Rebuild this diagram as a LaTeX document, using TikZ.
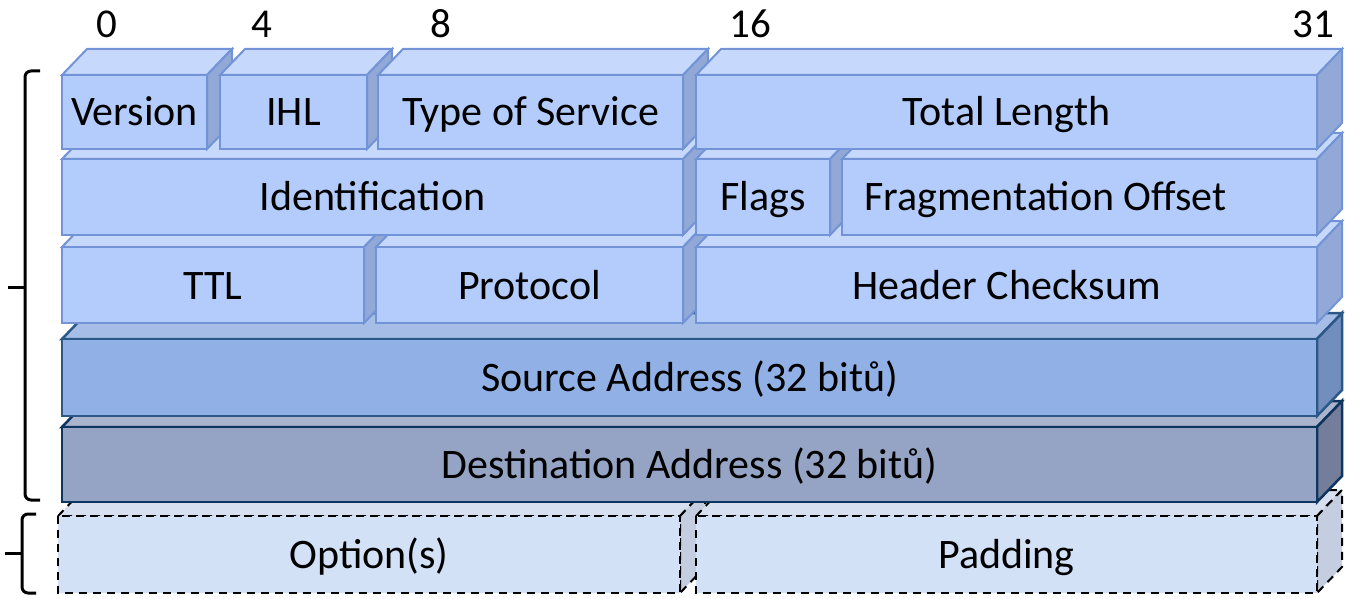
\documentclass[tikz,border=0pt]{standalone}
\usepackage{fontspec}
\setmainfont{Carlito}
\definecolor{lfront}{RGB}{180,204,251}
\definecolor{ltop}{RGB}{198,216,251}
\definecolor{lside}{RGB}{146,168,214}
\definecolor{ledge}{RGB}{114,148,214}
\definecolor{sfront}{RGB}{145,177,230}
\definecolor{stop}{RGB}{166,190,230}
\definecolor{sside}{RGB}{114,142,190}
\definecolor{sedge}{RGB}{44,88,136}
\definecolor{dfront}{RGB}{149,163,196}
\definecolor{dtop}{RGB}{170,180,204}
\definecolor{dside}{RGB}{116,126,154}
\definecolor{dedge}{RGB}{14,52,96}
\definecolor{ofront}{RGB}{211,225,246}
\definecolor{otop}{RGB}{214,224,240}
\definecolor{oside}{RGB}{196,206,224}
\tikzset{
  L front/.style={fill=lfront,draw=ledge,line width=2pt},
  L top/.style={fill=ltop,draw=ledge,line width=2pt},
  L side/.style={fill=lside,draw=ledge,line width=2pt},
  S front/.style={fill=sfront,draw=sedge,line width=2.5pt},
  S top/.style={fill=stop,draw=sedge,line width=2.5pt},
  S side/.style={fill=sside,draw=sedge,line width=2.5pt},
  D front/.style={fill=dfront,draw=dedge,line width=2.5pt},
  D top/.style={fill=dtop,draw=dedge,line width=2.5pt},
  D side/.style={fill=dside,draw=dedge,line width=2.5pt},
  O front/.style={fill=ofront,draw=black,line width=2pt,dash pattern=on 8pt off 6pt},
  O top/.style={fill=otop,draw=black,line width=2pt,dash pattern=on 8pt off 6pt},
  O side/.style={fill=oside,draw=black,line width=2pt,dash pattern=on 8pt off 6pt},
  label/.style={font=\fontsize{42}{48}\selectfont,text=black,inner sep=0pt,anchor=base},
  bitnum/.style={font=\fontsize{41}{48}\selectfont,text=black,inner sep=0pt,anchor=base},
  bracket/.style={draw=black,line width=3pt,rounded corners=6pt},
}
% one field of the header: a slab with top, side and front faces
% [#1] = extra label options, #2,#3 = front top-left, #4,#5 = front bottom-right,
% #6 = look, #7 = node name, #8 = text
\newcommand\slab[8][]{%
  \path[#6 top] (#2,#3) -- (#2+25,#3-26) -- (#4+25,#3-26) -- (#4,#3) -- cycle;
  \path[#6 side] (#4,#3) -- (#4+25,#3-26) -- (#4+25,#5-26) -- (#4,#5) -- cycle;
  \path[#6 front] (#2,#3) rectangle (#4,#5);
  \node[label,#1] (#7) at ({(#2+#4)/2},{(#3+#5)/2+14}) {#8};
}
\begin{document}
\begin{tikzpicture}[x=1pt,y=-1pt]
\useasboundingbox (0,0) rectangle (1345,599);
% bit positions
\node[bitnum] (b0) at (107,38) {0};
\node[bitnum] (b4) at (262,38) {4};
\node[bitnum] (b8) at (441,38) {8};
\node[bitnum] (b16) at (750,38) {16};
\node[bitnum] (b31) at (1313,38) {31};
% options row (bottom, drawn first)
\slab{58}{516}{680}{593}{O}{options}{Option(s)}
\slab{696}{516}{1317}{593}{O}{padding}{Padding}
% addresses
\slab{62}{427}{1317}{502}{D}{dst}{Destination Address (32 bitů)}
\slab{62}{339}{1317}{416}{S}{src}{Source Address (32 bitů)}
% third word
\slab{62}{247}{364}{323}{L}{ttl}{TTL}
\slab{376}{247}{683}{323}{L}{proto}{Protocol}
\slab{696}{247}{1317}{323}{L}{chk}{Header Checksum}
% second word
\slab{62}{159}{683}{235}{L}{ident}{Identification}
\slab{696}{159}{830}{235}{L}{flags}{Flags}
\slab[xshift=-34pt]{842}{159}{1317}{235}{L}{frag}{Fragmentation Offset}
% first word
\slab{62}{75}{207}{149}{L}{ver}{Version}
\slab{220}{75}{367}{149}{L}{ihl}{IHL}
\slab{378}{75}{683}{149}{L}{tos}{Type of Service}
\slab{696}{75}{1317}{149}{L}{len}{Total Length}
% grouping brackets
\coordinate (hTop) at (40,71);
\coordinate (hBot) at (40,500);
\coordinate (hMid) at (8,287);
\draw[bracket] (hTop) -- (25,71) -- (25,500) -- (hBot);
\draw[line width=3pt] (hMid) -- (25,287);
\coordinate (oTop) at (36,514);
\coordinate (oBot) at (36,593);
\coordinate (oMid) at (5,553);
\draw[bracket] (oTop) -- (22,514) -- (22,593) -- (oBot);
\draw[line width=3pt] (oMid) -- (22,553);
\end{tikzpicture}
\end{document}
